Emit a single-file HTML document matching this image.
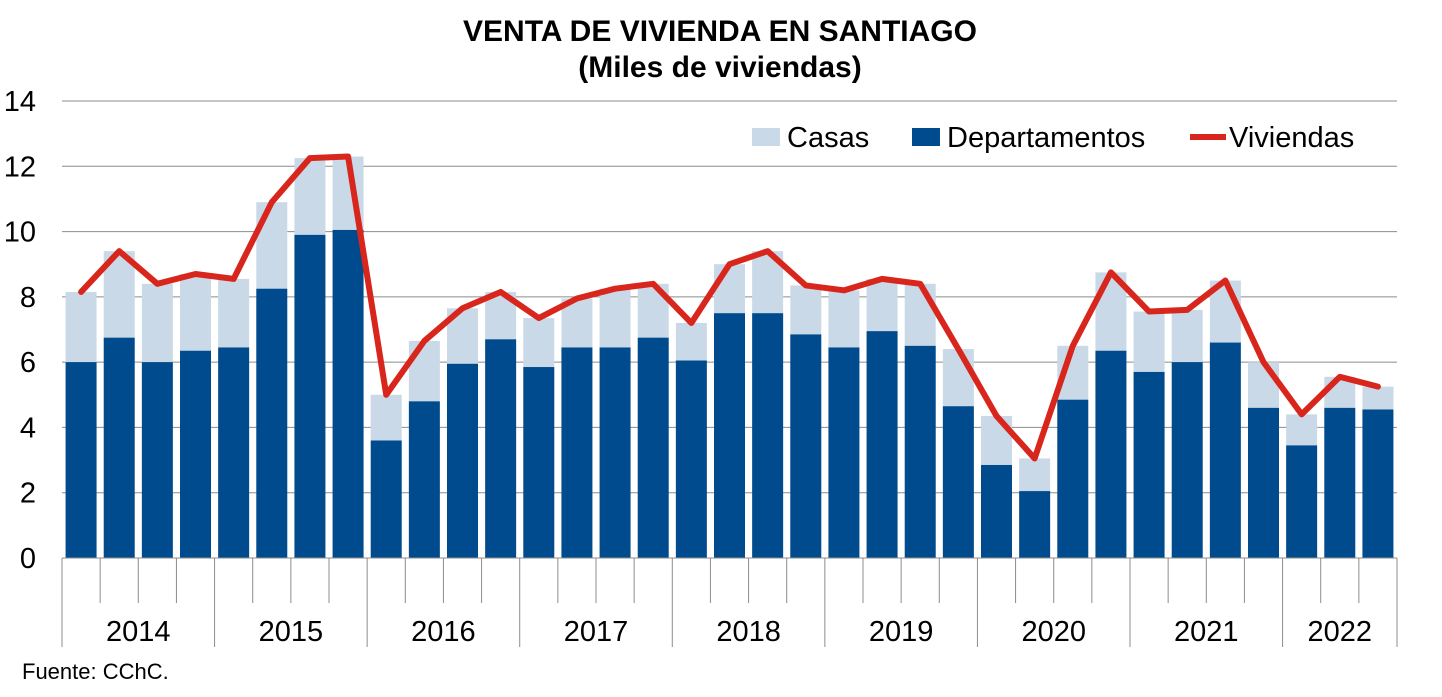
<!DOCTYPE html>
<html><head><meta charset="utf-8"><style>
body{margin:0;background:#fff;}
svg text{font-family:"Liberation Sans",Arial,sans-serif;}
</style></head><body>
<svg id="chart" width="1442" height="692" xmlns="http://www.w3.org/2000/svg">
<text x="720" y="41" text-anchor="middle" font-size="30" font-weight="bold">VENTA DE VIVIENDA EN SANTIAGO</text>
<text x="720" y="77" text-anchor="middle" font-size="30" font-weight="bold">(Miles de viviendas)</text>
<g id="grid"></g><g id="bars"></g><g id="axis"></g><g id="line"></g>
<g>
<rect x="752" y="128" width="28" height="18" fill="#C9D9E8"/>
<text x="787" y="147" font-size="29">Casas</text>
<rect x="912" y="128" width="28" height="18" fill="#004B8D"/>
<text x="947" y="147" font-size="29">Departamentos</text>
<line x1="1190" y1="137" x2="1226" y2="137" stroke="#D9261C" stroke-width="6"/>
<text x="1229" y="147" font-size="29">Viviendas</text>
</g>
<text x="22" y="679" font-size="22">Fuente:  CChC.</text>
</svg>
<script>
const years=["2014","2015","2016","2017","2018","2019","2020","2021","2022"];
const quartersPerYear=[4,4,4,4,4,4,4,4,3];
const departamentos=[6.0,6.75,6.0,6.35, 6.45,8.25,9.9,10.05, 3.6,4.8,5.95,6.7, 5.85,6.45,6.45,6.75, 6.05,7.5,7.5,6.85, 6.45,6.95,6.5,4.65, 2.85,2.05,4.85,6.35, 5.7,6.0,6.6,4.6, 3.45,4.6,4.55];
const viviendas=[8.15,9.4,8.4,8.7, 8.55,10.9,12.25,12.3, 5.0,6.65,7.65,8.15, 7.35,7.95,8.25,8.4, 7.2,9.0,9.4,8.35, 8.2,8.55,8.4,6.4, 4.35,3.05,6.5,8.75, 7.55,7.6,8.5,6.0, 4.4,5.55,5.25];
const yTicks=[0,2,4,6,8,10,12,14];
const NS="http://www.w3.org/2000/svg";
const x0=62,x1=1397,yb=558,yt=101,n=departamentos.length,slot=(x1-x0)/n;
const y=v=>yb-(v/14)*(yb-yt);
const xc=i=>x0+slot*(i+0.5);
function mk(t,a,p){const e=document.createElementNS(NS,t);for(const k in a)e.setAttribute(k,a[k]);p.appendChild(e);return e;}
const grid=document.getElementById('grid'),bars=document.getElementById('bars'),axis=document.getElementById('axis'),lineG=document.getElementById('line');
yTicks.forEach(v=>{
 if(v>0){const l=mk('line',{x1:x0,x2:x1,y1:y(v),y2:y(v),stroke:'#8c8c8c','stroke-width':1},grid);
 
 }
 const t=mk('text',{x:36,y:y(v)+10,'text-anchor':'end','font-size':29},axis);t.textContent=v;
 
 
});
departamentos.forEach((d,i)=>{
 const w=31,bx=xc(i)-w/2;
 const c=mk('rect',{x:bx,y:y(viviendas[i]),width:w,height:y(d)-y(viviendas[i]),fill:'#C9D9E8'},bars);
 
 
 const r=mk('rect',{x:bx,y:y(d),width:w,height:yb-y(d),fill:'#004B8D'},bars);
 
 
});
const ax=mk('line',{x1:x0,x2:x1,y1:yb,y2:yb,stroke:'#8c8c8c','stroke-width':1},axis);


let idx=0;
years.forEach((yr,k)=>{
 const start=idx;
 const sep=mk('line',{x1:x0+slot*start,x2:x0+slot*start,y1:yb,y2:647,stroke:'#8c8c8c','stroke-width':1},axis);
 
 
 for(let q=1;q<quartersPerYear[k];q++){
  const m=mk('line',{x1:x0+slot*(start+q),x2:x0+slot*(start+q),y1:yb,y2:603,stroke:'#8c8c8c','stroke-width':1},axis);
  
  
 }
 idx+=quartersPerYear[k];
 const t=mk('text',{x:x0+slot*(start+idx)/2,y:641,'text-anchor':'middle','font-size':29},axis);t.textContent=yr;
 
 
});
const endSep=mk('line',{x1:x1,x2:x1,y1:yb,y2:647,stroke:'#8c8c8c','stroke-width':1},axis);


const pl=mk('polyline',{points:viviendas.map((v,i)=>xc(i)+','+y(v)).join(' '),fill:'none',stroke:'#D9261C','stroke-width':6,'stroke-linejoin':'round','stroke-linecap':'round'},lineG);


</script>
</body></html>
